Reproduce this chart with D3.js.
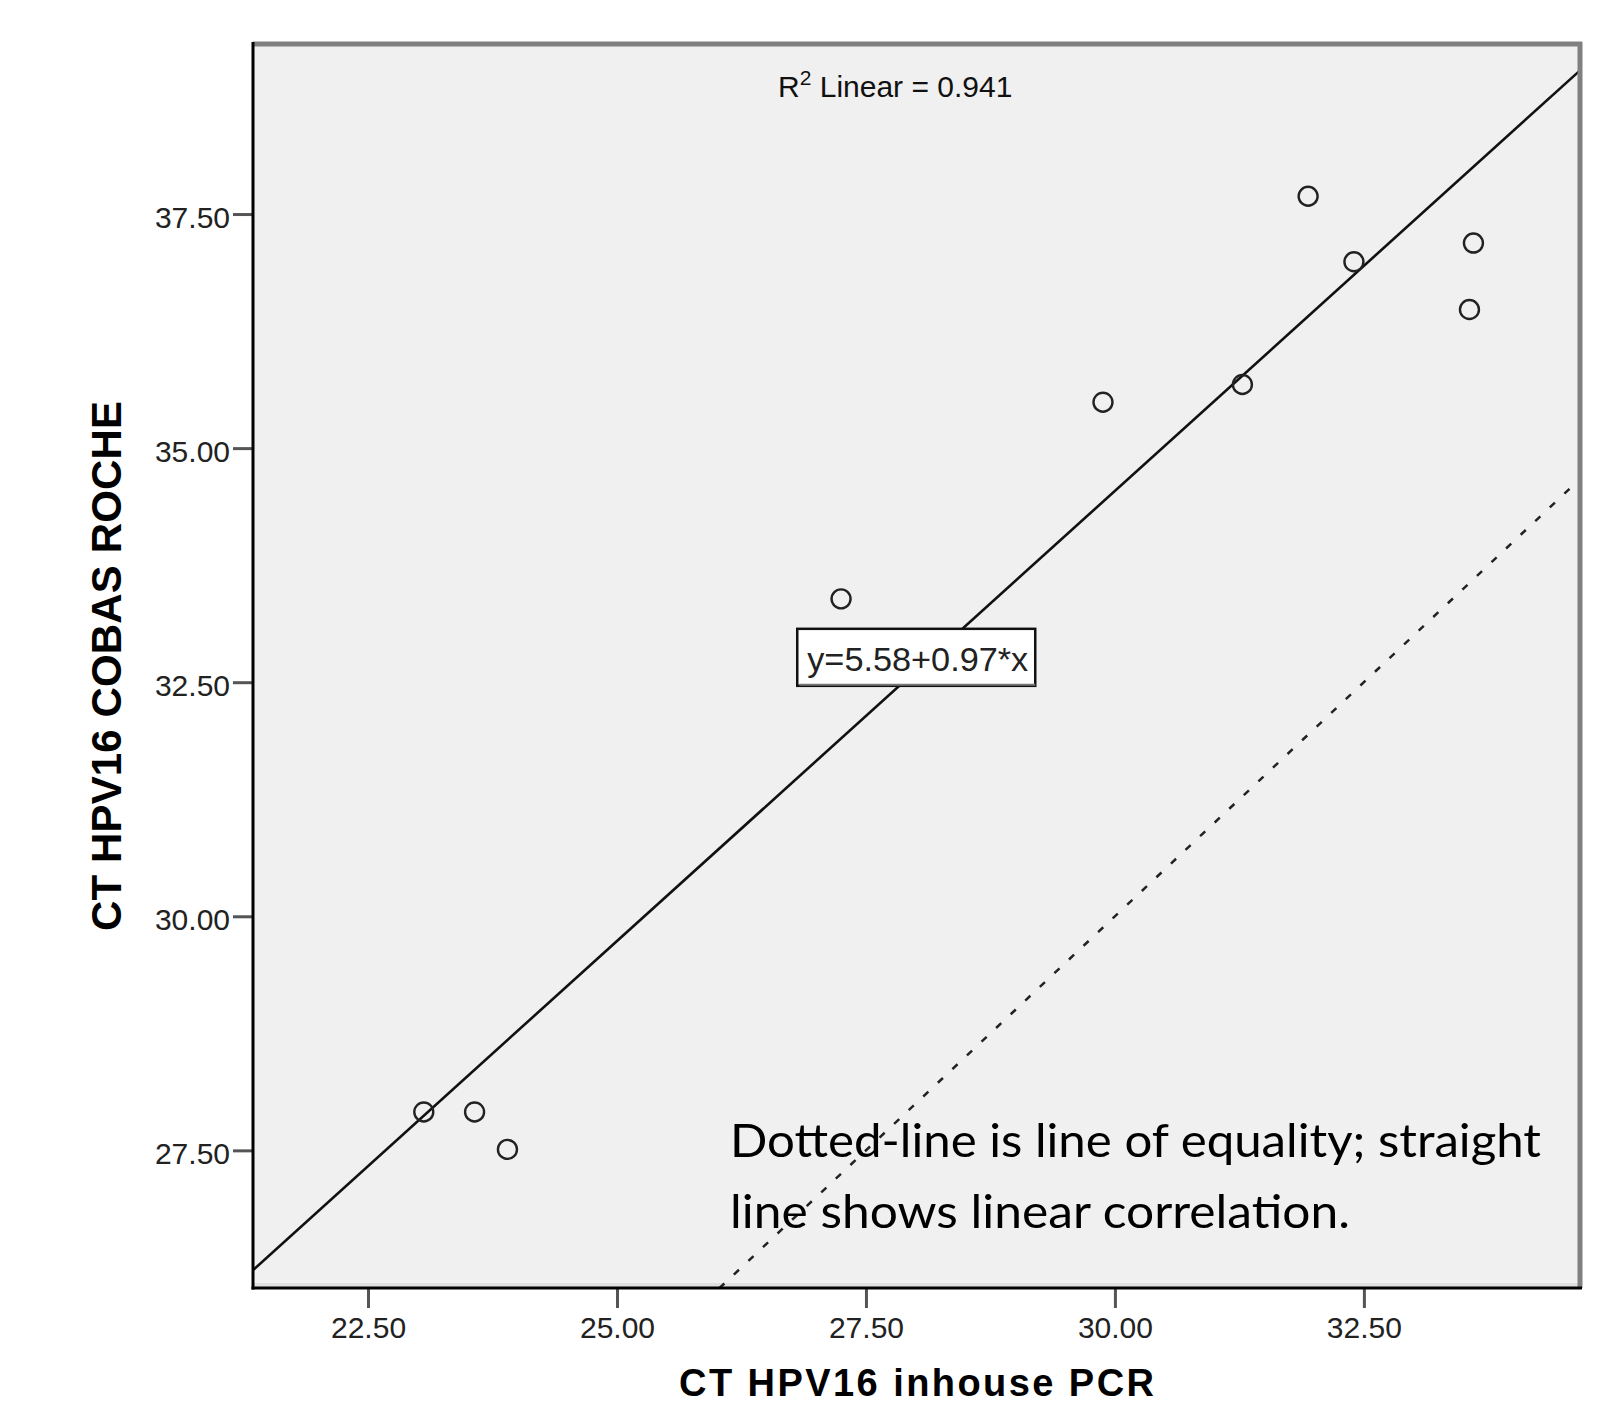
<!DOCTYPE html>
<html>
<head>
<meta charset="utf-8">
<script src="https://cdn.jsdelivr.net/npm/d3@7"></script>
<style>
  body { margin: 0; background: #fff; }
  svg { display: block; }
</style>
</head>
<body>
<script>
var width = 1613;
var height = 1407;

// values (in-house PCR Ct vs cobas Roche Ct)
var inhouseCt = [23.06, 23.57, 23.90, 27.25, 29.88, 31.28, 31.94, 32.40, 33.60, 33.56];
var cobasCt = [27.91, 27.91, 27.51, 33.39, 35.49, 35.68, 37.69, 36.99, 37.19, 36.48];

var xTicks = [22.5, 25, 27.5, 30, 32.5];
var yTicks = [27.5, 30, 32.5, 35, 37.5];
var xDomain = [21.345, 34.66];
var yDomain = [26.03, 39.316];

var xTitle = 'CT HPV16 inhouse PCR';
var yTitle = 'CT HPV16 COBAS ROCHE';
var fitLabel = 'y=5.58+0.97*x';
var r2Value = '0.941';
var noteLines = ['Dotted-line is line of equality; straight', 'line shows linear correlation.'];

var plot = { left: 253, top: 44, right: 1579, bottom: 1288 };

var svg = d3.select('body').append('svg')
    .attr('width', width)
    .attr('height', height);

var x = d3.scaleLinear().domain(xDomain).range([plot.left, plot.right]);
var y = d3.scaleLinear().domain(yDomain).range([plot.bottom, plot.top]);

// least squares fit of the points
var mx = d3.mean(inhouseCt), my = d3.mean(cobasCt);
var sxy = d3.sum(inhouseCt, function(v, i) { return (v - mx) * (cobasCt[i] - my); });
var sxx = d3.sum(inhouseCt, function(v) { return (v - mx) * (v - mx); });
var slope = sxy / sxx;
var intercept = my - slope * mx;

// plot background
svg.append('rect')
    .attr('x', plot.left).attr('y', plot.top)
    .attr('width', plot.right - plot.left).attr('height', plot.bottom - plot.top)
    .attr('fill', '#f0f0f0');
svg.append('rect')
    .attr('x', plot.left).attr('y', plot.bottom - 5)
    .attr('width', plot.right - plot.left).attr('height', 4)
    .attr('fill', '#e0e0e0');

svg.append('clipPath').attr('id', 'clip')
    .append('rect')
    .attr('x', plot.left).attr('y', plot.top)
    .attr('width', plot.right - plot.left).attr('height', plot.bottom - plot.top);

var inner = svg.append('g').attr('clip-path', 'url(#clip)');

// line of equality (dotted)
inner.append('line')
    .attr('x1', x(xDomain[0])).attr('y1', y(xDomain[0]))
    .attr('x2', x(xDomain[1])).attr('y2', y(xDomain[1]))
    .attr('stroke', '#222')
    .attr('stroke-width', 2.5)
    .attr('stroke-dasharray', '7,13');

// fit line
inner.append('line')
    .attr('x1', x(xDomain[0])).attr('y1', y(intercept + slope * xDomain[0]))
    .attr('x2', x(xDomain[1])).attr('y2', y(intercept + slope * xDomain[1]))
    .attr('stroke', '#111')
    .attr('stroke-width', 2.6);

// points
inner.selectAll('circle')
    .data(inhouseCt)
    .enter().append('circle')
    .attr('cx', function(d) { return x(d); })
    .attr('cy', function(d, i) { return y(cobasCt[i]); })
    .attr('r', 9.5)
    .attr('fill', 'none')
    .attr('stroke', '#222')
    .attr('stroke-width', 2.4);

// frame
svg.append('line')
    .attr('x1', plot.left).attr('x2', plot.right + 3)
    .attr('y1', plot.top).attr('y2', plot.top)
    .attr('stroke', '#808080').attr('stroke-width', 5);
svg.append('line')
    .attr('x1', plot.right + 1).attr('x2', plot.right + 1)
    .attr('y1', plot.top - 2).attr('y2', plot.bottom)
    .attr('stroke', '#808080').attr('stroke-width', 5);

// axes
var xAxis = svg.append('g')
    .attr('transform', 'translate(0,' + plot.bottom + ')')
    .call(d3.axisBottom(x).tickValues(xTicks).tickFormat(d3.format('.2f'))
        .tickSize(20).tickSizeOuter(0).tickPadding(9));
var yAxis = svg.append('g')
    .attr('transform', 'translate(' + plot.left + ',0)')
    .call(d3.axisLeft(y).tickValues(yTicks).tickFormat(d3.format('.2f'))
        .tickSize(20).tickSizeOuter(0).tickPadding(3));

[xAxis, yAxis].forEach(function(ax) {
    ax.select('.domain').remove();
    ax.selectAll('.tick line').attr('stroke', '#555').attr('stroke-width', 3);
    ax.selectAll('.tick text')
        .attr('fill', '#222')
        .style('font-family', '"Liberation Sans", Arial, sans-serif')
        .style('font-size', '30px');
});
yAxis.selectAll('.tick text').attr('dy', '0.45em');

svg.append('line')
    .attr('x1', plot.left).attr('x2', plot.left)
    .attr('y1', plot.top - 2).attr('y2', plot.bottom + 1.5)
    .attr('stroke', '#000').attr('stroke-width', 3);
svg.append('line')
    .attr('x1', plot.left - 1.5).attr('x2', plot.right + 3)
    .attr('y1', plot.bottom).attr('y2', plot.bottom)
    .attr('stroke', '#000').attr('stroke-width', 3);

// R squared
var r2 = svg.append('text')
    .attr('x', 778).attr('y', 97)
    .attr('fill', '#111')
    .style('font-family', '"Liberation Sans", Arial, sans-serif')
    .style('font-size', '30px');
r2.append('tspan').text('R');
r2.append('tspan').attr('dy', -12).style('font-size', '21px').text('2');
r2.append('tspan').attr('dy', 12).text(' Linear = ' + r2Value);

// equation label box
var boxX = x(26.81), boxY = y(33.07);
svg.append('rect')
    .attr('x', boxX).attr('y', boxY)
    .attr('width', 238).attr('height', 57)
    .attr('fill', '#fff')
    .attr('stroke', '#111')
    .attr('stroke-width', 2.5);
svg.append('line')
    .attr('x1', boxX + 2).attr('x2', boxX + 238)
    .attr('y1', boxY + 56).attr('y2', boxY + 56)
    .attr('stroke', '#777').attr('stroke-width', 2);
svg.append('text')
    .attr('x', boxX + 10).attr('y', boxY + 42)
    .attr('fill', '#222')
    .attr('textLength', 221)
    .attr('lengthAdjust', 'spacingAndGlyphs')
    .style('font-family', '"Liberation Sans", Arial, sans-serif')
    .style('font-size', '34px')
    .text(fitLabel);

// axis titles
svg.append('text')
    .attr('x', 679).attr('y', 1396)
    .attr('fill', '#000')
    .attr('textLength', 475)
    .style('font-family', '"Liberation Sans", Arial, sans-serif')
    .style('font-weight', 'bold')
    .style('font-size', '38px')
    .text(xTitle);
svg.append('text')
    .attr('transform', 'translate(121,666) rotate(-90)')
    .attr('text-anchor', 'middle')
    .attr('fill', '#000')
    .attr('textLength', 530)
    .style('font-family', '"Liberation Sans", Arial, sans-serif')
    .style('font-weight', 'bold')
    .style('font-size', '42px')
    .text(yTitle);

// note
var noteWidths = [811, 620];
svg.selectAll('.note')
    .data(noteLines)
    .enter().append('text')
    .attr('class', 'note')
    .attr('x', 730)
    .attr('y', function(d, i) { return 1157 + i * 71; })
    .attr('fill', '#000')
    .attr('textLength', function(d, i) { return noteWidths[i]; })
    .attr('lengthAdjust', 'spacingAndGlyphs')
    .style('font-family', 'Lato, "Open Sans", sans-serif')
    .style('font-size', '47px')
    .text(function(d) { return d; });
</script>
</body>
</html>
